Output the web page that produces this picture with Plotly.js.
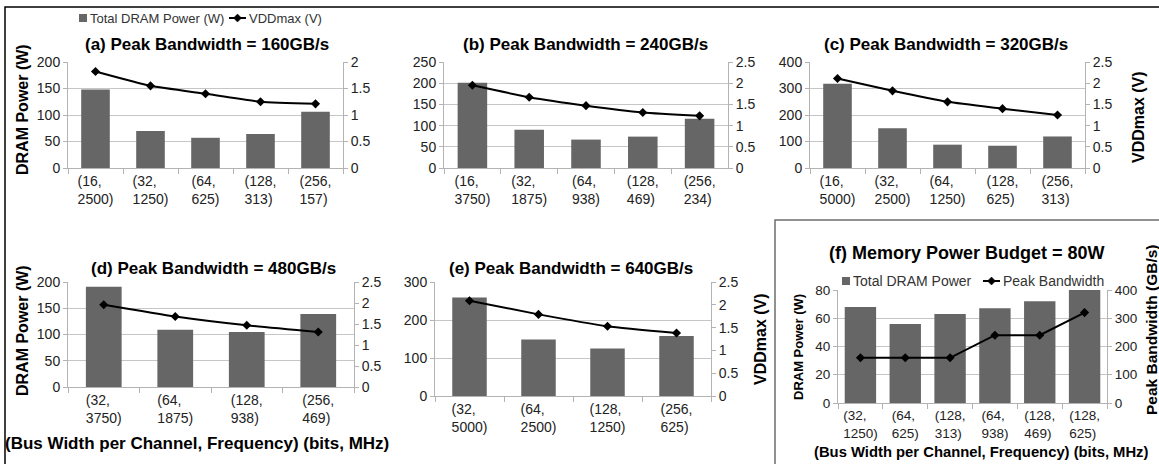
<!DOCTYPE html>
<html>
<head>
<meta charset="utf-8">
<script src="https://cdn.plot.ly/plotly-3.0.1.min.js"></script>
<style>
html,body{margin:0;padding:0;background:#fff;}
#chart{width:1159px;height:464px;}
</style>
</head>
<body>
<div id="chart"></div>
<script>
// ---------- data ----------
const catsA = ["(16,<br>2500)","(32,<br>1250)","(64,<br>625)","(128,<br>313)","(256,<br>157)"];
const powerA = [148, 70, 57, 64, 106];
const vddA = [1.82, 1.55, 1.40, 1.25, 1.21];

const catsB = ["(16,<br>3750)","(32,<br>1875)","(64,<br>938)","(128,<br>469)","(256,<br>234)"];
const powerB = [201, 90, 67, 74, 116];
const vddB = [1.95, 1.67, 1.47, 1.31, 1.23];

const catsC = ["(16,<br>5000)","(32,<br>2500)","(64,<br>1250)","(128,<br>625)","(256,<br>313)"];
const powerC = [318, 150, 88, 84, 119];
const vddC = [2.11, 1.82, 1.56, 1.40, 1.25];

const catsD = ["(32,<br>3750)","(64,<br>1875)","(128,<br>938)","(256,<br>469)"];
const powerD = [191, 109, 105, 139];
const vddD = [1.96, 1.68, 1.47, 1.31];

const catsE = ["(32,<br>5000)","(64,<br>2500)","(128,<br>1250)","(256,<br>625)"];
const powerE = [259, 149, 125, 158];
const vddE = [2.09, 1.79, 1.53, 1.38];

const catsF = ["(32,<br>1250)","(64,<br>625)","(128,<br>313)","(64,<br>938)","(128,<br>469)","(128,<br>625)"];
const powerF = [68, 56, 63, 67, 72, 80];
const bwF = [160, 160, 160, 240, 240, 320];

const titles = [
  "(a) Peak Bandwidth = 160GB/s",
  "(b) Peak Bandwidth = 240GB/s",
  "(c) Peak Bandwidth = 320GB/s",
  "(d) Peak Bandwidth = 480GB/s",
  "(e) Peak Bandwidth = 640GB/s",
  "(f) Memory Power Budget = 80W"
];
const legendNames1 = ["Total DRAM Power (W)", "VDDmax (V)"];
const legendNames2 = ["Total DRAM Power", "Peak Bandwidth"];

// ---------- layout helpers ----------
const W = 1159, H = 464;
const FONT = "Liberation Sans, Arial, sans-serif";
const BAR = "#666666";
const GRID = "#c6c6c6";
const LINE = "#b3b3b3";
const px = v => v / W;
const py = v => 1 - v / H;

// left-justify the two lines of a category label (pad the shorter line with nbsp)
const charW = c => ("()".includes(c) ? 0.333 : c === "," ? 0.278 : 0.556);
const strW = s => [...s].reduce((a, c) => a + charW(c), 0);
function leftJustify(label) {
  const parts = label.split("<br>");
  const w = parts.map(strW);
  const maxW = Math.max(...w);
  return parts.map((s, i) => s + "&nbsp;".repeat(Math.round((maxW - w[i]) / 0.278))).join("<br>");
}

const panels = [
  {cats: catsA, bars: powerA, line: vddA, box: [68, 343, 62, 168], yl: [200, 50], yr: [2, 0.5], gap: 0.48, fs: 14, names: legendNames1, smooth: true},
  {cats: catsB, bars: powerB, line: vddB, box: [444, 728, 62, 168], yl: [250, 50], yr: [2.5, 0.5], gap: 0.48, fs: 14, names: legendNames1, smooth: true},
  {cats: catsC, bars: powerC, line: vddC, box: [810, 1085, 62, 168], yl: [400, 100], yr: [2.5, 0.5], gap: 0.48, fs: 14, names: legendNames1, smooth: true},
  {cats: catsD, bars: powerD, line: vddD, box: [68, 354, 282, 387], yl: [200, 50], yr: [2.5, 0.5], gap: 0.5, fs: 14, names: legendNames1, smooth: true},
  {cats: catsE, bars: powerE, line: vddE, box: [435, 711, 282, 396], yl: [300, 100], yr: [2.5, 0.5], gap: 0.5, fs: 14, names: legendNames1, smooth: true},
  {cats: catsF, bars: powerF, line: bwF, box: [838, 1107, 290, 403], yl: [80, 20], yr: [400, 100], gap: 0.3, fs: 13.5, names: legendNames2, smooth: false}
];

const data = [];
const layout = {
  width: W, height: H,
  margin: {l: 0, r: 0, t: 0, b: 0},
  paper_bgcolor: "#ffffff",
  plot_bgcolor: "rgba(0,0,0,0)",
  font: {family: FONT, color: "#222", size: 14},
  showlegend: false,
  annotations: [],
  shapes: [
    {type: "rect", xref: "paper", yref: "paper", x0: px(5), x1: px(1175), y0: py(7), y1: py(480),
     line: {color: "#000", width: 1.5}, fillcolor: "rgba(0,0,0,0)", layer: "below"},
    {type: "rect", xref: "paper", yref: "paper", x0: px(775), x1: px(1175), y0: py(220), y1: py(480),
     line: {color: "#6e6e6e", width: 1.5}, fillcolor: "#ffffff", layer: "below"}
  ]
};

panels.forEach((p, k) => {
  const xi = k + 1, yp = 2 * k + 1, ys = 2 * k + 2;
  const xr = xi === 1 ? "x" : "x" + xi;
  const ypr = yp === 1 ? "y" : "y" + yp;
  const ysr = "y" + ys;
  const xKey = xi === 1 ? "xaxis" : "xaxis" + xi;
  const ypKey = yp === 1 ? "yaxis" : "yaxis" + yp;
  const ysKey = "yaxis" + ys;
  const [x0, x1, t, b] = p.box;
  const xd = [px(x0), px(x1)], yd = [py(b), py(t)];
  const tf = {family: FONT, size: p.fs, color: "#222"};

  layout[xKey] = {
    domain: xd, anchor: ypr, type: "category",
    tickmode: "array", tickvals: p.cats, ticktext: p.cats.map(leftJustify),
    tickson: "boundaries", ticks: "outside", ticklen: 5, tickcolor: LINE,
    showline: true, linecolor: LINE, linewidth: 1, showgrid: false,
    tickfont: tf, fixedrange: true
  };
  layout[ypKey] = {
    domain: yd, anchor: xr, range: [0, p.yl[0]], dtick: p.yl[1], tick0: 0,
    showgrid: true, gridcolor: GRID, gridwidth: 1, zeroline: false,
    showline: true, linecolor: LINE, ticks: "outside", ticklen: 4, tickcolor: LINE,
    tickfont: tf, fixedrange: true
  };
  layout[ysKey] = {
    overlaying: ypr, side: "right", anchor: xr, range: [0, p.yr[0]], dtick: p.yr[1], tick0: 0,
    showgrid: false, zeroline: false,
    showline: true, linecolor: LINE, ticks: "outside", ticklen: 4, tickcolor: LINE,
    tickfont: tf, fixedrange: true
  };

  data.push({
    type: "bar", x: p.cats, y: p.bars, xaxis: xr, yaxis: ypr,
    marker: {color: BAR, line: {width: 0}},
    name: p.names[0], width: 1 - p.gap, hoverinfo: "skip"
  });
  data.push({
    type: "scatter", mode: "lines+markers", x: p.cats, y: p.line, xaxis: xr, yaxis: ysr,
    line: {color: "#000", width: 2, shape: p.smooth ? "spline" : "linear", smoothing: 0.5},
    marker: {symbol: "diamond", size: 7, color: "#000"},
    name: p.names[1], hoverinfo: "skip", cliponaxis: false
  });
});

// ---------- text annotations ----------
const ann = (text, x, y, size, opts) => Object.assign({
  text: text, xref: "paper", yref: "paper", x: px(x), y: py(y),
  xanchor: "center", yanchor: "middle", showarrow: false,
  font: {family: FONT, size: size, color: "#000"}
}, opts || {});

const titlePos = [[207, 45], [585, 45], [946, 45], [213, 268], [571, 268], [967, 253]];
titles.forEach((t, i) => layout.annotations.push(ann("<b>" + t + "</b>", titlePos[i][0], titlePos[i][1], i === 5 ? 18 : 17)));

layout.annotations.push(ann("<b>DRAM Power (W)</b>", 23, 110, 16, {textangle: -90}));
layout.annotations.push(ann("<b>DRAM Power (W)</b>", 22, 331, 16, {textangle: -90}));
layout.annotations.push(ann("<b>VDDmax (V)</b>", 1138, 117, 16, {textangle: -90}));
layout.annotations.push(ann("<b>VDDmax (V)</b>", 760, 339, 16, {textangle: -90}));
layout.annotations.push(ann("<b>(Bus Width per Channel, Frequency) (bits, MHz)</b>", 197, 443, 17));
layout.annotations.push(ann("<b>DRAM Power (W)</b>", 798, 347, 13, {textangle: -90}));
layout.annotations.push(ann("<b>Peak Bandwidth (GB/s)</b>", 1151, 330, 15.5, {textangle: -90}));
layout.annotations.push(ann("<b>(Bus Width per Channel, Frequency) (bits, MHz)</b>", 981, 452, 14.8));

// ---------- compact legends (drawn as shapes + text) ----------
function addLegend(x0, yc, names, fs, lineX0) {
  layout.shapes.push({type: "rect", xref: "paper", yref: "paper",
    x0: px(x0), x1: px(x0 + 8), y0: py(yc + 4), y1: py(yc - 4),
    fillcolor: BAR, line: {width: 0}});
  layout.annotations.push(ann(names[0], x0 + 9, yc, fs, {xanchor: "left", font: {family: FONT, size: fs, color: "#333"}}));
  layout.shapes.push({type: "line", xref: "paper", yref: "paper",
    x0: px(lineX0), x1: px(lineX0 + 17), y0: py(yc), y1: py(yc), line: {color: "#000", width: 2}});
  const cx = lineX0 + 8.5, d = 4;
  layout.shapes.push({type: "path", xref: "paper", yref: "paper",
    path: `M ${px(cx)},${py(yc - d)} L ${px(cx + d)},${py(yc)} L ${px(cx)},${py(yc + d)} L ${px(cx - d)},${py(yc)} Z`,
    fillcolor: "#000", line: {color: "#000", width: 0.5}});
  layout.annotations.push(ann(names[1], lineX0 + 18, yc, fs, {xanchor: "left", font: {family: FONT, size: fs, color: "#333"}}));
}
addLegend(79, 18, legendNames1, 13, 229);
addLegend(842, 281, legendNames2, 14, 983);

Plotly.newPlot("chart", data, layout, {staticPlot: true, displayModeBar: false});
</script>
</body>
</html>
